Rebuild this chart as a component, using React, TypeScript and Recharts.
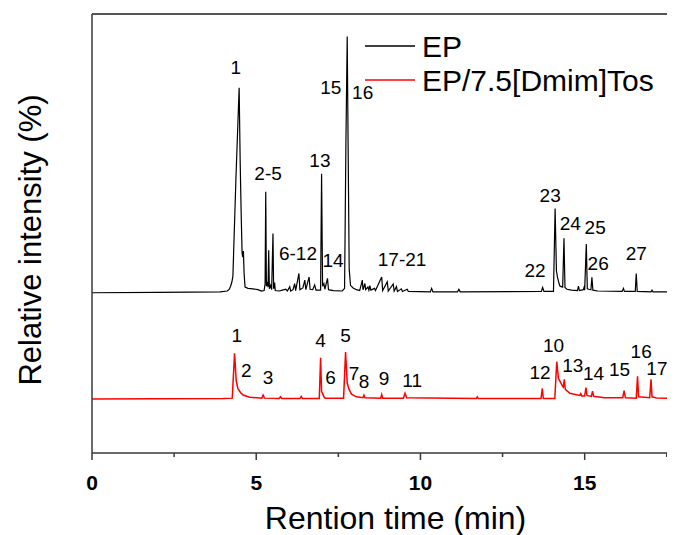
import React from 'react';
import { ComposedChart, Line, Scatter, XAxis, YAxis, ReferenceLine, Legend, Label } from 'recharts';

// ---- data (retention time in min, relative intensity offset per trace) ----
const epTime = [0, 2.0, 3.9, 4.12, 4.18, 4.22, 4.26, 4.29, 4.38, 4.48, 4.51, 4.54, 4.57, 4.59, 4.61, 4.63, 4.66, 4.75, 4.9, 5.05, 5.16, 5.24, 5.27, 5.29, 5.31, 5.34, 5.36, 5.38, 5.40, 5.44, 5.47, 5.51, 5.53, 5.56, 5.58, 5.70, 5.80, 5.90, 5.95, 6.02, 6.05, 6.12, 6.17, 6.20, 6.30, 6.33, 6.42, 6.48, 6.51, 6.61, 6.64, 6.72, 6.78, 6.82, 6.96, 6.99, 7.02, 7.06, 7.09, 7.17, 7.20, 7.35, 7.62, 7.69, 7.73, 7.77, 7.80, 7.83, 7.87, 7.95, 8.05, 8.15, 8.23, 8.25, 8.31, 8.33, 8.40, 8.43, 8.46, 8.49, 8.60, 8.63, 8.82, 8.85, 8.99, 9.02, 9.17, 9.20, 9.27, 9.30, 9.42, 9.45, 9.60, 9.63, 10.30, 10.34, 10.38, 11.13, 11.17, 11.21, 13.68, 13.72, 13.76, 14.05, 14.10, 14.14, 14.17, 14.22, 14.25, 14.33, 14.37, 14.40, 14.46, 14.60, 14.78, 14.81, 14.84, 14.96, 14.98, 15.00, 15.05, 15.08, 15.13, 15.19, 15.22, 15.25, 15.40, 16.14, 16.18, 16.21, 16.54, 16.57, 16.60, 17.02, 17.05, 17.08, 17.75];
const epValue = [36.5, 36.6, 36.7, 36.9, 37.3, 38.0, 39.0, 40.3, 62, 83.2, 67, 55, 45.5, 44.6, 46.0, 41.0, 37.8, 37.5, 37.4, 37.2, 36.9, 37.0, 38.5, 59.5, 38.0, 39.0, 37.8, 46.2, 37.4, 38.2, 37.2, 50.0, 37.4, 38.8, 37.0, 36.9, 37.1, 37.3, 36.9, 37.9, 36.9, 37.2, 38.6, 37.0, 40.9, 37.2, 37.6, 39.4, 37.2, 40.1, 37.3, 37.2, 38.3, 37.1, 37.1, 63.6, 38.0, 38.6, 37.3, 39.8, 37.2, 37.0, 36.9, 37.5, 70, 94.9, 68, 42, 38.2, 37.6, 37.2, 37.0, 39.4, 37.2, 38.6, 37.2, 37.8, 37.1, 38.1, 37.1, 37.5, 37.0, 40.1, 37.0, 39.0, 36.9, 38.5, 36.9, 37.9, 36.8, 37.4, 36.8, 37.3, 36.8, 36.7, 37.5, 36.7, 36.7, 37.3, 36.7, 36.8, 37.7, 36.8, 36.8, 55.7, 41.5, 40.1, 38.6, 38.0, 37.8, 48.9, 37.7, 37.3, 37.1, 37.0, 38.0, 37.0, 37.2, 37.7, 37.1, 47.6, 37.4, 37.3, 37.2, 40.0, 37.1, 36.9, 36.8, 37.5, 36.8, 36.8, 40.9, 36.8, 36.7, 37.1, 36.7, 36.7];

const ilTime = [0, 4.0, 4.27, 4.34, 4.39, 4.44, 4.52, 4.60, 4.80, 5.17, 5.21, 5.25, 5.70, 5.74, 5.78, 6.33, 6.37, 6.41, 6.92, 6.96, 6.99, 7.03, 7.06, 7.10, 7.66, 7.72, 7.77, 7.82, 7.90, 8.05, 8.25, 8.28, 8.31, 8.79, 8.82, 8.85, 9.48, 9.53, 9.58, 11.70, 11.73, 11.76, 13.67, 13.71, 13.74, 14.09, 14.15, 14.20, 14.25, 14.32, 14.35, 14.38, 14.41, 14.55, 14.85, 14.88, 14.91, 15.00, 15.04, 15.07, 15.20, 15.24, 15.27, 15.60, 16.16, 16.20, 16.24, 16.57, 16.61, 16.64, 16.98, 17.02, 17.05, 17.20, 17.75];
const ilValue = [12.3, 12.4, 12.5, 22.7, 16.5, 14.7, 13.8, 13.2, 12.7, 12.5, 13.2, 12.5, 12.4, 12.8, 12.4, 12.4, 12.9, 12.4, 12.4, 21.7, 14.0, 13.4, 12.8, 12.5, 12.5, 23.0, 16.0, 14.6, 13.4, 12.8, 12.6, 13.2, 12.6, 12.5, 13.3, 12.5, 12.5, 13.6, 12.6, 12.4, 12.8, 12.4, 12.4, 14.7, 12.4, 12.4, 20.8, 17.0, 16.3, 15.3, 15.0, 16.8, 14.5, 13.6, 13.1, 13.5, 13.0, 13.0, 14.9, 13.1, 12.9, 14.1, 12.9, 12.6, 12.6, 14.2, 12.6, 12.5, 17.5, 12.8, 12.6, 16.8, 12.8, 12.5, 12.4];

// peak annotations (text, time, intensity where the text sits)
const epLabelText = ['1', '2-5', '6-12', '13', '14', '15', '16', '17-21', '22', '23', '24', '25', '26', '27'];
const epLabelTime = [4.375, 5.36, 6.27, 6.94, 7.34, 7.27, 8.24, 9.44, 13.49, 13.95, 14.56, 15.32, 15.41, 16.57];
const epLabelValue = [87.9, 63.8, 45.6, 66.7, 44.0, 83.4, 82.2, 44.2, 41.7, 58.8, 52.4, 51.5, 43.3, 45.6];

const ilLabelText = ['1', '2', '3', '4', '6', '5', '7', '8', '9', '11', '12', '10', '13', '14', '15', '16', '17'];
const ilLabelTime = [4.41, 4.70, 5.36, 6.96, 7.26, 7.72, 7.98, 8.28, 8.89, 9.75, 13.64, 14.05, 14.64, 15.27, 16.06, 16.72, 17.2];
const ilLabelValue = [26.9, 18.9, 17.3, 25.7, 17.3, 26.9, 18.2, 16.4, 17.1, 16.6, 18.5, 24.6, 20.0, 18.2, 19.1, 23.2, 19.3];

const xTicks = [0, 2.5, 5, 7.5, 10, 12.5, 15, 17.5];
const seriesNames = ['EP', 'EP/7.5[Dmim]Tos'];
const seriesColors = ['#000000', '#ff0000'];

const epData = epTime.map((t, i) => ({ t, v: epValue[i] }));
const ilData = ilTime.map((t, i) => ({ t, v: ilValue[i] }));
const labelData = [
  ...epLabelText.map((s, i) => ({ t: epLabelTime[i], v: epLabelValue[i], s })),
  ...ilLabelText.map((s, i) => ({ t: ilLabelTime[i], v: ilLabelValue[i], s })),
];

const FONT = '"Liberation Sans", Arial, sans-serif';
const AXIS = '#3a3a3a';

const XTick = (props: any) => {
  const { x, y, payload } = props;
  const major = payload.value % 5 === 0;
  return (
    <g>
      <line x1={x} x2={x} y1={y} y2={y + (major ? 7 : 4)} stroke={AXIS} strokeWidth={1.5} />
      {major && (
        <text x={x} y={y + 37} textAnchor="middle" fontSize={21} fontWeight="bold" fill="#000" fontFamily={FONT}>
          {payload.value}
        </text>
      )}
    </g>
  );
};

const PeakLabel = (props: any) => {
  const { cx, cy, payload } = props;
  return (
    <text x={cx} y={cy + 7} textAnchor="middle" fontSize={19} fill="#000" fontFamily={FONT}>
      {payload.s}
    </text>
  );
};

const LegendBox = () => (
  <svg width={320} height={80} style={{ overflow: 'visible' }}>
    {seriesNames.map((n, i) => (
      <g key={n}>
        <line x1={0} x2={50} y1={11 + i * 34} y2={11 + i * 34} stroke={seriesColors[i]} strokeWidth={1.5} />
        <text x={57} y={11 + i * 34 + 11} fontSize={30} fill="#000" fontFamily={FONT}>{n}</text>
      </g>
    ))}
  </svg>
);

export default function App() {
  return (
    <ComposedChart width={667} height={527} margin={{ top: 6, right: 0, bottom: 0, left: 44 }} style={{ fontFamily: FONT }}>
      <XAxis
        dataKey="t"
        type="number"
        domain={[0, 17.75]}
        allowDataOverflow
        ticks={xTicks}
        interval={0}
        tickSize={0}
        tickMargin={0}
        tickLine={false}
        tick={<XTick />}
        height={82}
        axisLine={{ stroke: AXIS, strokeWidth: 1.5 }}
      >
        <Label
          content={(p: any) => {
            const vb = p.viewBox || { x: 84, y: 445, width: 583 };
            return (
              <text x={vb.x + vb.width / 2 + 12} y={vb.y + 76} textAnchor="middle" fontSize={32} fill="#000" fontFamily={FONT}>
                Rention time (min)
              </text>
            );
          }}
        />
      </XAxis>
      <YAxis
        type="number"
        domain={[0, 100]}
        allowDataOverflow
        width={40}
        tick={false}
        tickLine={false}
        axisLine={{ stroke: AXIS, strokeWidth: 1.5 }}
      >
        <Label
          content={() => (
            <text x={33} y={232} transform="rotate(-90, 33, 232)" textAnchor="middle" fontSize={31} fill="#000" fontFamily={FONT}>
              Relative intensity (%)
            </text>
          )}
        />
      </YAxis>
      <ReferenceLine y={100} stroke="#555" strokeWidth={2} ifOverflow="visible" />
      <Line data={epData} dataKey="v" type="linear" stroke={seriesColors[0]} strokeWidth={1.2} dot={false} isAnimationActive={false} />
      <Line data={ilData} dataKey="v" type="linear" stroke={seriesColors[1]} strokeWidth={1.5} dot={false} isAnimationActive={false} />
      <Scatter data={labelData} dataKey="v" shape={<PeakLabel />} isAnimationActive={false} />
      <Legend
        layout="vertical"
        align="center"
        verticalAlign="middle"
        content={() => <LegendBox />}
        wrapperStyle={{ position: 'absolute', left: 357, top: 27, width: 320, height: 80 }}
      />
    </ComposedChart>
  );
}
